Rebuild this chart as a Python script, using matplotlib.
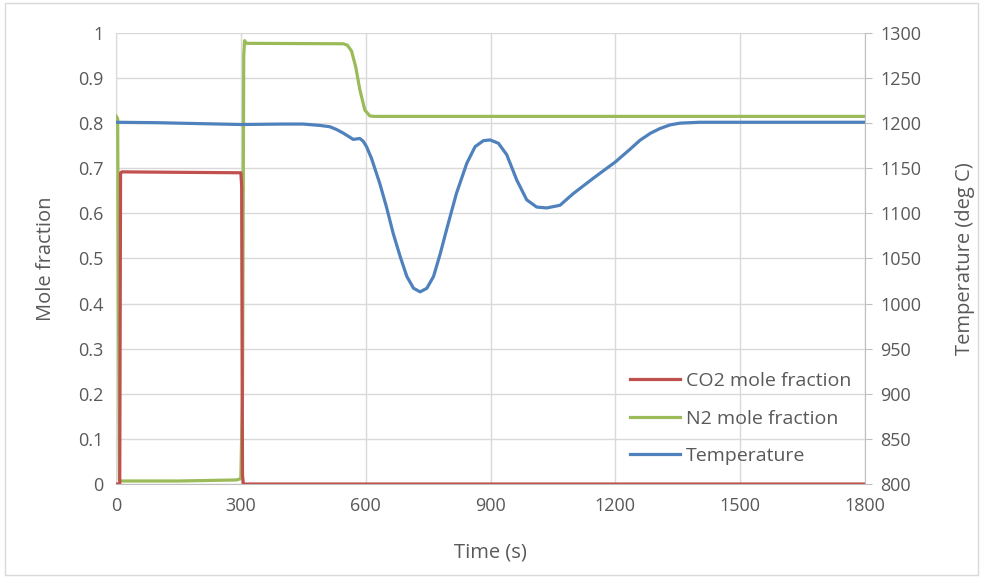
import numpy as np
import matplotlib
matplotlib.use("Agg")
import matplotlib.pyplot as plt
from matplotlib.patches import Rectangle

plt.rcParams['font.family'] = ['Open Sans', 'DejaVu Sans']

# === data ===
co2_t = [0, 9, 11, 14, 300, 302, 304, 306, 1800]
co2_y = [0.0, 0.0, 0.69, 0.692, 0.69, 0.66, 0.02, 0.0, 0.0]

n2_t = [0, 4, 8, 12, 150, 290, 300, 304, 307, 309, 312, 546, 556, 566, 576, 586, 598, 610, 620, 1800]
n2_y = [0.816, 0.81, 0.01, 0.0067, 0.0067, 0.009, 0.012, 0.2, 0.95, 0.983, 0.977, 0.976,
        0.973, 0.960, 0.925, 0.874, 0.829, 0.816, 0.815, 0.815]

temp_t = [0, 100, 200, 300, 400, 450, 490, 514, 530, 546, 560, 570, 578, 586, 594, 602, 614,
          634, 650, 666, 683, 699, 715, 731, 747, 763, 779, 795, 818, 843, 863, 883, 899,
          919, 939, 963, 987, 1011, 1035, 1067, 1099, 1150, 1200, 1235, 1259, 1285, 1307,
          1331, 1355, 1403, 1500, 1800]
temp_y = [1201, 1200.5, 1199.5, 1198.5, 1199, 1199, 1197.5, 1196, 1193, 1189, 1185, 1182,
          1182.5, 1183, 1180, 1174, 1161, 1133, 1107, 1078, 1052, 1030, 1017, 1013, 1017,
          1030, 1055, 1083, 1122, 1155.5, 1174, 1180.6, 1181.4, 1177.7, 1165, 1137, 1115,
          1107, 1106, 1109, 1122, 1140, 1157, 1171, 1181, 1189, 1194, 1198, 1200, 1201,
          1201, 1201]

x_ticks = [0, 300, 600, 900, 1200, 1500, 1800]
mf_ticks = [0, 0.1, 0.2, 0.3, 0.4, 0.5, 0.6, 0.7, 0.8, 0.9, 1]
mf_labels = ['0', '0.1', '0.2', '0.3', '0.4', '0.5', '0.6', '0.7', '0.8', '0.9', '1']
temp_ticks = [800, 850, 900, 950, 1000, 1050, 1100, 1150, 1200, 1250, 1300]

red = '#C0504D'
green = '#9BBB59'
blue = '#4F81BD'
txt = '#595959'
grid_c = '#D9D9D9'

fig = plt.figure(figsize=(9.83, 5.78), dpi=100)
ax = fig.add_axes([0.118, 0.1626, 0.762, 0.7804])
ax2 = ax.twinx()

l1, = ax.plot(co2_t, co2_y, color=red, lw=2.3, label='CO2 mole fraction', zorder=4)
l2, = ax.plot(n2_t, n2_y, color=green, lw=2.3, label='N2 mole fraction', zorder=3)
l3, = ax2.plot(temp_t, temp_y, color=blue, lw=2.3, label='Temperature')

ax.set_xlim(0, 1800)
ax.set_ylim(0, 1)
ax2.set_ylim(800, 1300)
ax.set_xticks(x_ticks)
ax.set_yticks(mf_ticks)
ax.set_yticklabels(mf_labels)
ax2.set_yticks(temp_ticks)

ax.grid(True, color=grid_c, lw=1)
ax.set_axisbelow(True)

for a in (ax, ax2):
    for s in a.spines.values():
        s.set_visible(False)
ax.spines['left'].set_visible(True)
ax.spines['left'].set_color(grid_c)
ax.spines['bottom'].set_visible(True)
ax.spines['bottom'].set_color('#BFBFBF')
ax2.spines['right'].set_visible(True)
ax2.spines['right'].set_color('#BFBFBF')

ax.tick_params(axis='both', length=0, labelsize=13, colors=txt, pad=9)
ax.tick_params(axis='y', pad=9)
ax2.tick_params(axis='y', length=5, color='#BFBFBF', labelsize=13, labelcolor=txt, pad=6)

ax.set_xlabel('Time (s)', fontsize=14.5, color=txt, labelpad=20)
ax.set_ylabel('Mole fraction', fontsize=14.5, color=txt, labelpad=16)
ax2.set_ylabel('Temperature (deg C)', fontsize=14.5, color=txt, labelpad=24)

leg = ax2.legend(handles=[l1, l2, l3], loc='lower right', bbox_to_anchor=(1.0, 0.012),
                 frameon=False, fontsize=14, handlelength=2.6, handletextpad=0.3,
                 labelspacing=1.0, borderaxespad=0.3)
for t in leg.get_texts():
    t.set_color(txt)

fig.patches.append(Rectangle((0.005, 0.005), 0.99, 0.99, transform=fig.transFigure,
                             fill=False, edgecolor='#D9D9D9', lw=1))

fig.savefig('out.png', dpi=100)
